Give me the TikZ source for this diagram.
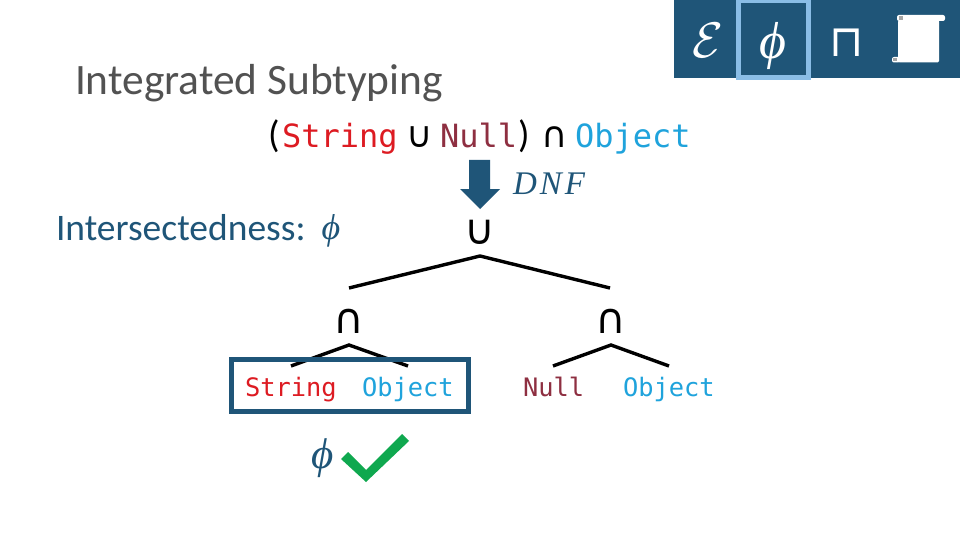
\documentclass[tikz,border=0pt]{standalone}
\usepackage{fontspec}
\setmainfont{Carlito}
\setmonofont{DejaVu Sans Mono}
\newfontfamily\symf{DejaVu Sans}
\newfontfamily\mathf{Liberation Serif}
\definecolor{navy}{HTML}{1F5578}
\definecolor{sky}{HTML}{8ABDE6}
\definecolor{strred}{HTML}{DD1B22}
\definecolor{nullred}{HTML}{8E2F41}
\definecolor{objblue}{HTML}{1FA3DC}
\definecolor{tick}{HTML}{0FA84F}
\newcommand{\fs}[1]{\fontsize{#1}{#1}\selectfont}
\tikzset{
  x=1pt,y=-1pt,
  lbl/.style={inner sep=0pt,outer sep=0pt},
  titletext/.style={lbl,anchor=base west,font=\fs{43.4},text=black!68},
  bigcode/.style={lbl,anchor=base west,font=\fs{32}\ttfamily},
  smallcode/.style={lbl,anchor=base west,font=\fs{25.4}\ttfamily},
  treeline/.style={draw=black,line width=3.4pt,line join=miter},
  opbig/.style={lbl,anchor=center,text=black,font=\fs{42}\symf},
  opsmall/.style={lbl,anchor=center,text=black,font=\fs{36}\symf},
  hl/.style={draw,line width=5.5pt,fill=none}
}
\begin{document}
\begin{tikzpicture}
\useasboundingbox (0,0) rectangle (960,540);
\fill[white] (0,0) rectangle (960,540);
% banner
\fill[navy] (674,0) rectangle (960,78);
\draw[sky,line width=5pt] (738.5,1) rectangle (808.5,77.5);
\node[lbl,text=white,scale=5] (eps) at (708,40) {$\mathcal{E}$};
\node[lbl,text=white,font=\fs{52}\mathf\itshape] (phib) at (773,46) {ϕ};
\node[lbl,text=white,font=\fs{44}\symf] (pi) at (847,43) {⊓};
\fill[white,rounded corners=1.5pt] (898,20) rectangle (939,62.5);
\fill[white,rounded corners=2pt] (897,15) rectangle (945,21);
\fill[white,rounded corners=2pt] (892,57) rectangle (900,62.5);
\fill[black!35] (899,16.5) rectangle (903,20);
\fill[black!35] (893,58.5) rectangle (897,61);
% title
\node[titletext] (title) at (75,95) {Integrated Subtyping};
% expression
\node[lbl,anchor=base west,font=\fs{38}] (lp) at (268,148) {(};
\node[bigcode,text=strred] (s1) at (282,148) {String};
\node[opsmall] (u1) at (420,137) {∪};
\node[bigcode,text=nullred] (n1) at (440,148) {Null};
\node[lbl,anchor=base west,font=\fs{38}] (rp) at (518,148) {)};
\node[opsmall] (i1) at (555,137) {∩};
\node[bigcode,text=objblue] (o1) at (575,148) {Object};
% arrow
\fill[navy] (469,160) -- (490,160) -- (490,189) -- (500,189) -- (480,209) -- (460,189) -- (469,189) -- cycle;
\node[lbl,anchor=base west,text=navy,font=\fs{33}\mathf\itshape] (dnf) at (513,194) {D\kern3pt N\kern3pt F};
% intersectedness
\node[lbl,anchor=base west,text=navy,font=\fs{37.5}] (inter) at (56,240) {Intersectedness:};
\node[lbl,text=navy,font=\fs{36}\mathf\itshape] (phia) at (331,231) {ϕ};
% tree
\node[opbig] (root) at (480,232) {∪};
\node[opbig] (li) at (349,321) {∩};
\node[opbig] (ri) at (611,321) {∩};
\coordinate (top) at (480,256);
\coordinate (l1) at (349,288);
\coordinate (r1) at (610,288);
\coordinate (la) at (349,345);
\coordinate (ra) at (611,345);
\coordinate (lal) at (291,366);
\coordinate (lar) at (408,366);
\coordinate (ral) at (553,366);
\coordinate (rar) at (669,366);
\draw[treeline] (l1) -- (top) -- (r1);
\draw[treeline] (lal) -- (la) -- (lar);
\draw[treeline] (ral) -- (ra) -- (rar);
\draw[navy,hl] (231.5,359.5) rectangle (468.5,411.5);
\node[smallcode,text=strred] (s2) at (245,396) {String};
\node[smallcode,text=objblue] (o2) at (362,396) {Object};
\node[smallcode,text=nullred] (n2) at (523,396) {Null};
\node[smallcode,text=objblue] (o3) at (623,396) {Object};
% check
\node[lbl,text=navy,font=\fs{43}\mathf\itshape] (phic) at (323,458) {ϕ};
\fill[tick] (341,459) -- (348,452) -- (366,470) -- (402,434) -- (409,441) -- (366,482) -- cycle;
\end{tikzpicture}
\end{document}
